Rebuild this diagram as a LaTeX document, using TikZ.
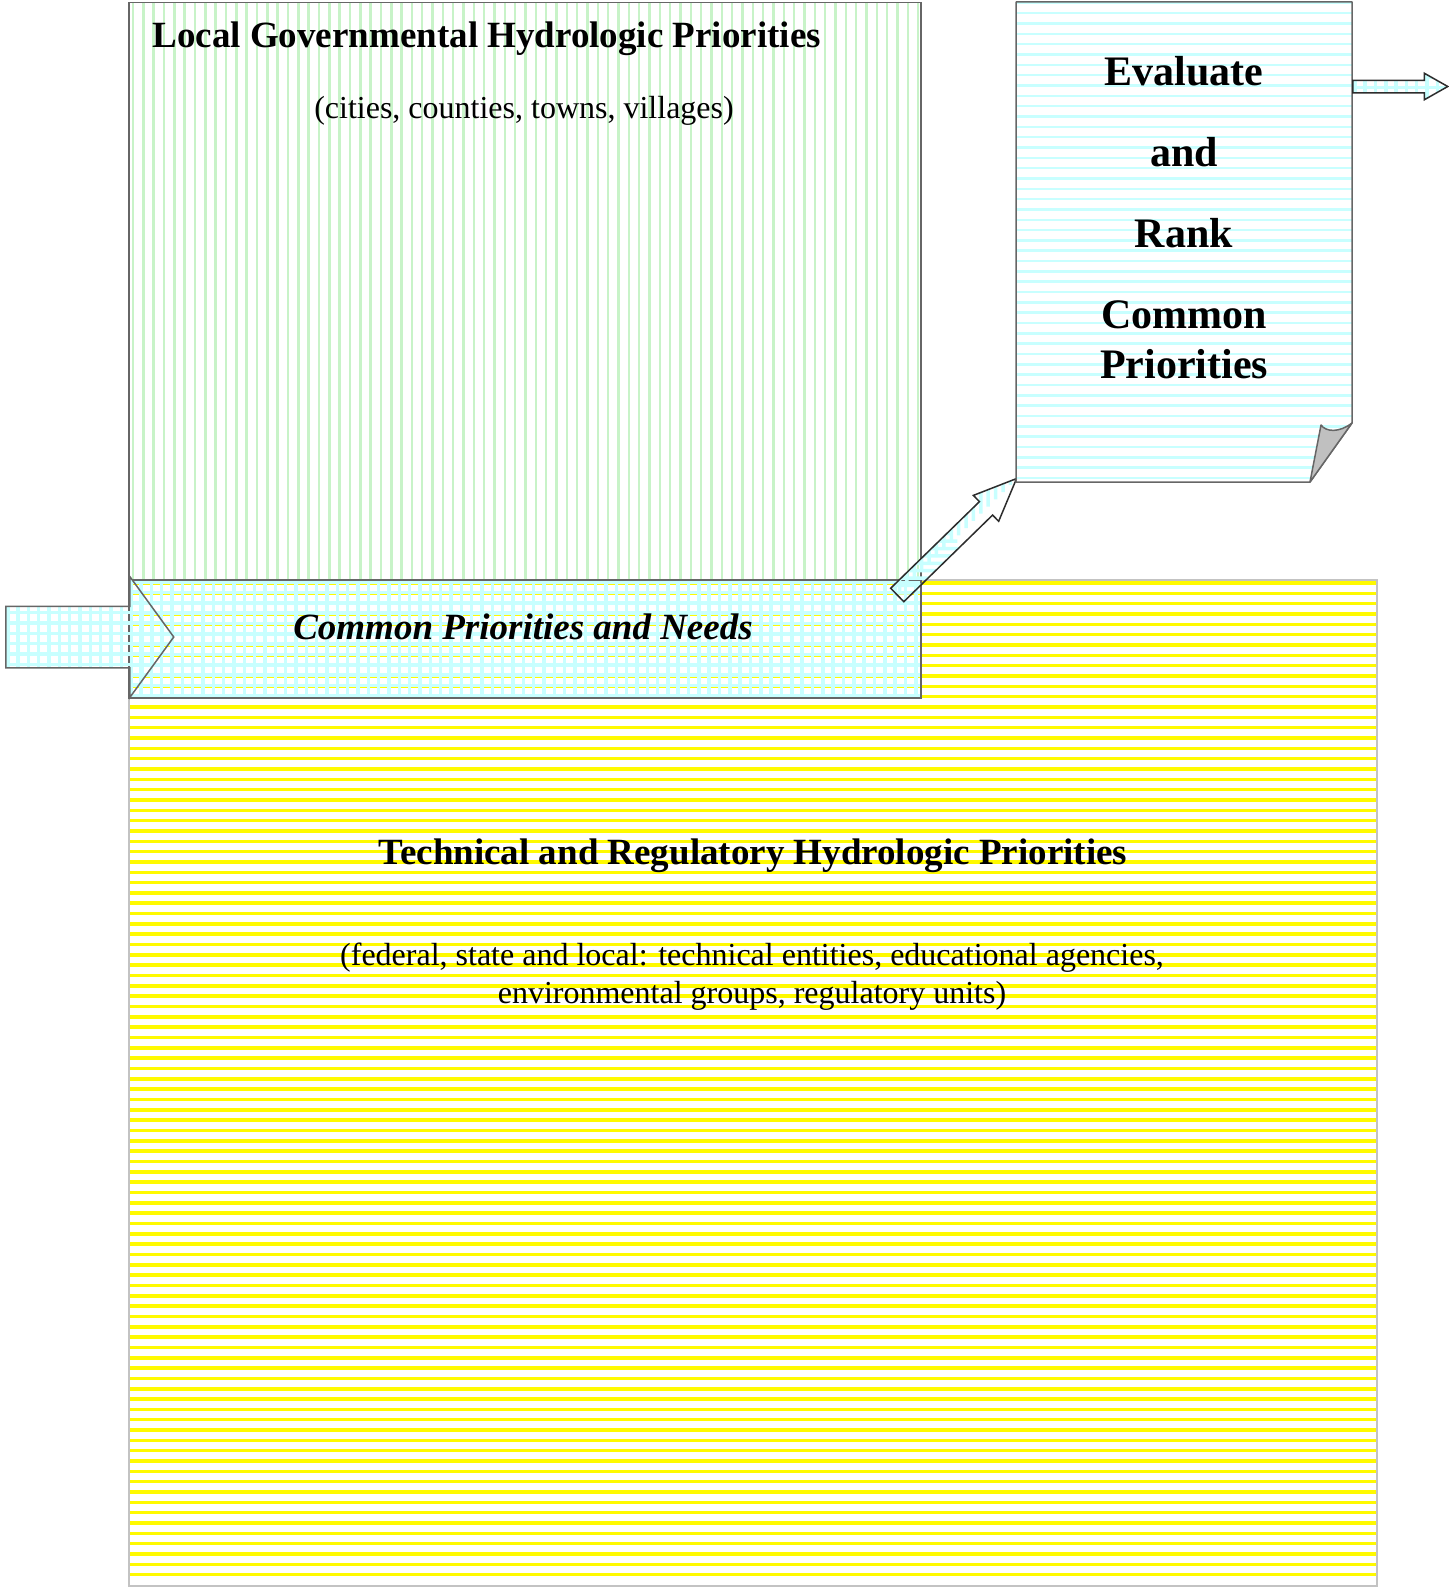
\documentclass[tikz,border=0pt]{standalone}
\usepackage{fontspec}
\setmainfont{Liberation Serif}
\usetikzlibrary{shapes.arrows}
\definecolor{stripgreen}{RGB}{200,243,200}
\definecolor{stripcyan}{RGB}{200,255,255}
\definecolor{stripyellow}{RGB}{255,250,0}
\definecolor{edgegray}{RGB}{102,102,102}
\definecolor{edgedark}{RGB}{45,45,45}
\definecolor{edgelight}{RGB}{195,195,195}
\definecolor{foldgray}{RGB}{192,192,192}
\begin{document}
\begin{tikzpicture}[x=1pt, y=-1pt,
    hstripes/.style 2 args={path picture={\foreach \k in {0,...,100}
      \draw[#1, line width=#2] ([yshift=\k*10.33pt+4pt]path picture bounding box.south west) -- ([yshift=\k*10.33pt+4pt]path picture bounding box.south east);}},
    gridfill/.style={path picture={\foreach \k in {0,...,80} {
      \draw[stripcyan, line width=3.5pt] ([xshift=\k*10.33pt+2pt]path picture bounding box.south west) -- ([xshift=\k*10.33pt+2pt]path picture bounding box.north west);
      \draw[stripcyan, line width=3.5pt] ([yshift=\k*10.33pt+2pt]path picture bounding box.south west) -- ([yshift=\k*10.33pt+2pt]path picture bounding box.south east);}}},
    greenbox/.style={draw=edgegray, line width=1.5pt, anchor=north west, inner sep=0pt},
    yellowbox/.style={draw=edgelight, line width=2pt, anchor=north west, inner sep=0pt},
    bandbox/.style={draw=edgegray, line width=1.5pt, gridfill, anchor=north west, inner sep=0pt},
    blockarrow/.style={single arrow, draw=#1, line width=1.5pt, line join=miter, gridfill, inner xsep=0pt, minimum width=0pt, anchor=tail},
    bigbold/.style={font=\bfseries\fontsize{37}{44}\selectfont},
    plaintext/.style={font=\fontsize{32}{38}\selectfont}]
  \useasboundingbox (0,0) rectangle (1448,1587);
  \begin{scope}
    \clip (128,2) rectangle (920,579);
    \foreach \x in {133,143.33,...,920} \draw[stripgreen, line width=2.5pt] (\x,2) -- (\x,579);
  \end{scope}
  \node[greenbox, minimum width=792pt, minimum height=578pt] (localbox) at (128,2) {};
  \begin{scope}
    \clip (128,579) rectangle (1376,1585);
    \foreach \y in {583,593.33,...,1585} \draw[stripyellow, line width=3.5pt] (128,\y) -- (1376,\y);
  \end{scope}
  \node[yellowbox, minimum width=1248pt, minimum height=1006pt] (techbox) at (128,579) {};
  \node[bandbox, minimum width=792pt, minimum height=118pt] (common) at (128,579) {};
  \node[blockarrow=edgegray, minimum height=168pt, inner ysep=30pt,
        single arrow head extend=29.5pt, single arrow tip angle=108] (inarrow) at (5,637) {};
  \node[blockarrow=edgedark, rotate=44.3, minimum height=166.7pt, inner ysep=8.65pt,
        single arrow head extend=8.7pt, single arrow tip angle=46] (uparrow) at (896.7,595.5) {};
  \path[draw=edgegray, line width=1.5pt, line join=round, hstripes={stripcyan}{2.5pt}]
    (1016,2) -- (1352,2) -- (1352,423) -- (1310,482) -- (1016,482) -- cycle;
  \draw[edgegray, fill=foldgray, line width=1.5pt, line join=round]
    (1352,423) .. controls (1339,433) and (1326,432) .. (1321,425) -- (1310,482) -- cycle;
  \node[blockarrow=edgedark, minimum height=95pt, inner ysep=5.5pt,
        single arrow head extend=7pt, single arrow tip angle=59] (outarrow) at (1352,86.5) {};
  \node[bigbold, anchor=base west] (localtitle) at (149,48) {Local Governmental Hydrologic Priorities};
  \node[plaintext, anchor=base] (localsub) at (524,118) {(cities, counties, towns, villages)};
  \node[font=\bfseries\itshape\fontsize{37}{44}\selectfont, anchor=base] (commontext) at (523,639) {Common Priorities and Needs};
  \node[font=\bfseries\fontsize{42}{50}\selectfont, align=center] (ranktext) at (1184,218)
    {Evaluate\\[31pt]and\\[31pt]Rank\\[31pt]Common\\Priorities};
  \node[bigbold, anchor=base] (techtitle) at (753,864) {Technical and Regulatory Hydrologic Priorities};
  \node[plaintext, align=center] (techsub) at (752,977)
    {(federal, state and local: technical entities, educational agencies,\\environmental groups, regulatory units)};
\end{tikzpicture}
\end{document}
